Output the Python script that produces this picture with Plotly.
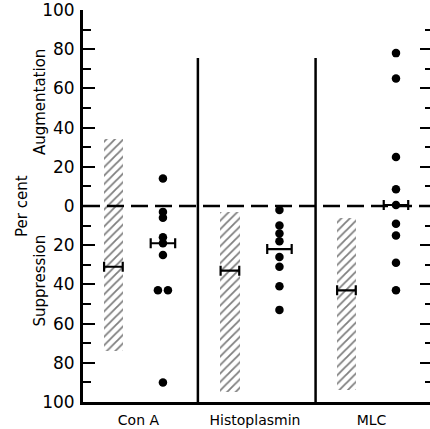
import plotly.graph_objects as go

# ---- data ----
categories = ["Con A", "Histoplasmin", "MLC"]
# hatched ranges (control range), bottom and top, per cent (augmentation +, suppression -)
range_low = [-74, -95, -94]
range_high = [34, -3, -6]
range_mean = [-31, -33, -43]
# individual points
conA_pts = [14, -3, -6, -16, -19, -25, -43, -43, -90]
histo_pts = [-2, -10, -14, -18, -26, -31, -41, -53]
mlc_pts = [78, 65, 25, 8.5, 0.5, -9, -15, -29, -43]
pts_mean = [-19, -22, 0.5]
# y ticks
tick_vals = [-100, -80, -60, -40, -20, 0, 20, 40, 60, 80, 100]
tick_text = ["100", "80", "60", "40", "20", "0", "20", "40", "60", "80", "100"]
minor_vals = [-90, -70, -50, -30, -10, 10, 30, 50, 70, 90]

# ---- layout constants ----
BAR_OFF = -0.215
DOT_OFF = 0.21
BAR_W = 0.17
conA_jitter = [0, 0, 0, 0, 0, 0, -0.043, 0.043, 0]
FONT = "DejaVu Sans"

fig = go.Figure()

# hatched range bars
fig.add_trace(go.Bar(
    x=[i + BAR_OFF for i in range(len(categories))],
    y=[h - l for l, h in zip(range_low, range_high)],
    base=range_low,
    width=BAR_W,
    marker=dict(color="white", line=dict(width=0),
                pattern=dict(shape="/", fgcolor="black", bgcolor="white",
                             size=6, solidity=0.3)),
    showlegend=False, hoverinfo="skip",
))

# range means with short horizontal bars
fig.add_trace(go.Scatter(
    x=[i + BAR_OFF for i in range(len(categories))],
    y=range_mean, mode="markers",
    marker=dict(size=1, color="black"),
    error_x=dict(type="constant", value=0.08, color="black", thickness=2.2, width=5),
    showlegend=False,
))

# individual points
all_pts = [conA_pts, histo_pts, mlc_pts]
for gi, pts in enumerate(all_pts):
    jit = conA_jitter if gi == 0 else [0] * len(pts)
    fig.add_trace(go.Scatter(
        x=[gi + DOT_OFF + j for j in jit], y=pts, mode="markers",
        marker=dict(size=8.5, color="black"),
        showlegend=False,
    ))

# point means
fig.add_trace(go.Scatter(
    x=[i + DOT_OFF for i in range(len(categories))],
    y=pts_mean, mode="markers",
    marker=dict(size=1, color="black"),
    error_x=dict(type="constant", value=0.105, color="black", thickness=2.2, width=5),
    showlegend=False,
))

# dummy trace on right axis so it renders
fig.add_trace(go.Scatter(x=[None], y=[None], yaxis="y2", showlegend=False))

# separators
for sx in [0.51, 1.52]:
    fig.add_shape(type="line", xref="x", yref="y", x0=sx, x1=sx, y0=-100, y1=75.5,
                  line=dict(color="black", width=2.5))
# dashed zero line
fig.add_shape(type="line", xref="paper", yref="y", x0=0, x1=1, y0=0, y1=0,
              line=dict(color="black", width=2.5, dash="17px,7px"), layer="above")

# axis titles
fig.add_annotation(text="Per cent", xref="paper", yref="y", x=0, y=0, xshift=-61,
                   xanchor="center", yanchor="middle",
                   textangle=-90, showarrow=False, font=dict(size=15, family=FONT, color="black"))
fig.add_annotation(text="Augmentation", xref="paper", yref="y", x=0, y=53, xshift=-43,
                   xanchor="center", yanchor="middle",
                   textangle=-90, showarrow=False, font=dict(size=15, family=FONT, color="black"))
fig.add_annotation(text="Suppression", xref="paper", yref="y", x=0, y=-38, xshift=-43,
                   xanchor="center", yanchor="middle",
                   textangle=-90, showarrow=False, font=dict(size=15, family=FONT, color="black"))

fig.update_layout(
    width=430, height=429,
    margin=dict(l=83, r=0, t=10, b=27, autoexpand=False),
    plot_bgcolor="white", paper_bgcolor="white",
    bargap=0,
    xaxis=dict(range=[-0.476, 2.502], tickvals=[0, 1, 2], ticktext=categories,
               automargin=False,
               showgrid=False, zeroline=False, showline=True, linecolor="black",
               linewidth=3, ticks="", ticklabelstandoff=3,
               tickfont=dict(size=14, family=FONT, color="black")),
    yaxis=dict(range=[-100, 100], tickvals=tick_vals, ticktext=tick_text,
               automargin=False, ticklabeloverflow="allow",
               showgrid=False, zeroline=False, showline=True, linecolor="black",
               linewidth=3, ticks="inside", ticklen=12, tickwidth=2, tickcolor="black",
               ticklabelstandoff=2,
               tickfont=dict(size=17, family=FONT, color="black"),
               minor=dict(tickvals=minor_vals, ticks="inside", ticklen=8,
                          tickwidth=2, tickcolor="black")),
    yaxis2=dict(range=[-100, 100], overlaying="y", side="right", tickvals=tick_vals,
                automargin=False,
                showticklabels=False, showgrid=False, zeroline=False, showline=False,
                ticks="inside", ticklen=10, tickwidth=2, tickcolor="black",
                minor=dict(tickvals=minor_vals, ticks="inside", ticklen=5,
                           tickwidth=2, tickcolor="black")),
)

fig.write_html("out.html", config={"displayModeBar": False},
               post_script="document.body.style.margin='0';document.body.style.overflow='hidden';")
